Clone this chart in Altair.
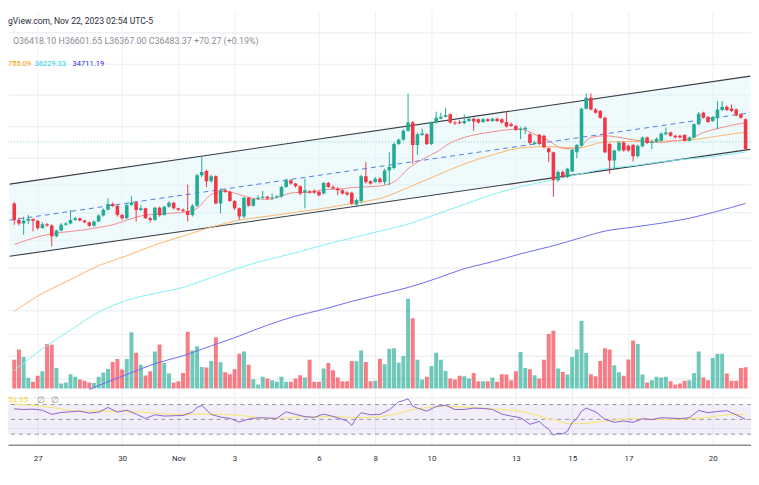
import altair as alt
import pandas as pd

# ---------------- data ----------------
idx = list(range(1, 158))
open_ = [34620,34120,34010,34090,34150,34090,33870,33990,33950,33620,33800,33970,34010,34120,34170,34100,34050,33940,34070,34250,
         34430,34600,34540,34270,34170,34570,34650,34420,34470,34170,34120,34490,34270,34520,34640,34470,34430,34390,34270,34550,
         35470,35600,35290,35440,34620,35020,34970,34690,34470,34220,34790,34550,34750,34790,34820,34770,34800,34830,35120,35320,
         35220,35140,34950,34990,35000,34970,34920,35240,35120,35070,35020,34950,34940,34590,34690,35440,35290,35270,35370,35270,
         35620,35690,36420,36550,36820,37070,36390,36690,36720,36420,37070,37190,37250,37320,37070,37090,37050,37120,37190,37170,
         37090,37170,37120,37190,37170,37090,37020,36970,36850,36870,36720,36420,36700,36670,36290,36170,35320,35570,35420,35590,
         36170,36370,37490,37820,37470,37420,37220,36420,35920,36220,36470,36370,36390,36050,36350,36620,36450,36490,36520,36720,
         36770,36670,36670,36690,36520,36620,37020,37370,37240,37120,37220,37450,37550,37490,37470,37320,37170]
high_ = [34670,34190,34220,34270,34170,34120,34050,34020,33990,33820,34020,34050,34420,34220,34190,34120,34070,34100,34290,34470,
         34770,34650,34570,34310,34620,34840,34690,34570,34490,34210,34520,34520,34550,34690,34670,34490,34470,35190,34590,35520,
         36020,35640,35490,35470,35070,35050,35000,34720,34490,34820,34820,34770,34870,35000,34850,34920,34870,35150,35370,35350,
         35240,35170,35370,35020,35050,35010,35270,35270,35170,35110,35050,34990,34970,34770,35490,35870,35320,35420,35420,35670,
         36170,36470,36590,36870,37950,37120,36770,36890,36750,37100,37400,37370,37520,37350,37120,37140,37320,37240,37220,37200,
         37210,37200,37220,37220,37200,37420,37070,37010,36940,36950,36770,36520,36720,36700,36320,36190,35620,35620,35700,36270,
         36420,37520,37950,37950,37510,37450,37250,36450,36250,36500,36500,36400,36420,36400,36650,36650,36550,36620,36770,36920,
         36800,36700,36700,36720,36650,37050,37390,37400,37270,37270,37720,37720,37590,37620,37500,37350,37200]
low_ = [33970,33950,33670,33990,33770,33820,33850,33910,33320,33590,33770,33940,33990,34090,34070,34020,33910,33910,34050,34220,
        34410,34510,34220,34120,34150,34550,34070,34390,34150,34050,34090,34220,34250,34490,34440,34390,34350,34070,34220,34520,
        35420,35120,35250,34590,34320,34940,34670,34420,34120,34170,34520,34520,34720,34750,34740,34720,34770,34790,35090,35190,
        35100,34870,34470,34920,34910,34830,34890,35090,35050,34870,34890,34850,34570,34520,34620,35220,35190,35240,35220,35190,
        35170,35650,36390,36520,36790,35820,36090,36670,36390,36390,37040,37170,37220,37040,37000,37020,37020,37090,36820,37040,
        37060,37090,37090,37090,37040,36920,36940,36820,36570,36720,36420,36390,36390,36290,35870,34820,35270,35390,35390,35570,
        35990,36350,37470,37440,37340,37190,36140,35520,35670,36190,36190,36190,35890,36020,36320,36420,36270,36460,36490,36690,
        36640,36590,36590,36490,36490,36590,36990,37190,37060,37090,36870,37420,37420,37390,37260,37190,36240]
close_ = [34120,34010,34090,34150,34090,33870,33990,33950,33620,33800,33970,34010,34120,34170,34100,34050,33940,34070,34250,34430,
          34600,34540,34270,34170,34570,34650,34420,34470,34170,34120,34490,34270,34520,34640,34470,34430,34390,34270,34550,35470,
          35570,35290,35440,34620,35020,34970,34690,34470,34220,34790,34550,34750,34790,34820,34770,34800,34830,35120,35320,35220,
          35140,34920,35020,34950,34950,34870,35240,35120,35070,35020,34920,34890,34620,34720,35440,35270,35220,35370,35270,35620,
          35720,36420,36550,36820,37070,36390,36720,36740,36420,37070,37220,37250,37300,37070,37040,37050,37120,37190,37100,37070,
          37170,37120,37190,37120,37070,36950,36970,36850,36890,36910,36450,36470,36420,36320,36170,35320,35570,35420,35670,36240,
          36390,37490,37820,37470,37370,37220,36170,35920,36220,36470,36220,36220,36050,36370,36620,36450,36490,36570,36740,36770,
          36670,36620,36620,36520,36620,37020,37340,37220,37090,37240,37470,37550,37450,37420,37290,37220,36270]
volume = [870,1180,950,320,200,380,520,1350,1320,620,150,180,430,350,270,230,180,160,350,480,
          590,800,890,570,890,1700,1080,720,390,520,1120,1330,770,450,170,220,470,1720,1150,1280,
          650,630,830,1550,790,490,430,580,1050,1120,720,280,120,350,300,250,200,350,200,200,
          300,400,330,870,200,200,600,770,550,330,220,220,830,820,1150,800,220,230,900,730,
          1200,1220,780,980,2720,2130,870,270,350,680,1080,870,530,300,270,380,370,300,470,220,
          220,220,330,200,430,420,250,520,1100,620,580,400,300,870,1650,1750,600,500,420,950,
          1180,2050,1070,430,370,830,1220,1180,700,490,380,880,1450,1350,420,180,250,350,330,350,
          220,120,150,230,250,470,1120,330,250,920,1050,1050,450,230,230,620,640]

ma_fast_idx = [1,4,7,10,13,16,19,22,25,28,31,34,37,40,43,46,49,52,55,58,61,64,67,70,73,76,79,82,85,88,91,94,97,100,
               103,106,109,112,115,118,121,124,127,130,133,136,139,142,145,148,151,154,157]
ma_fast = [33370,33520,33640,33720,33770,33820,33890,33970,34110,34240,34290,34320,34350,34470,34890,34990,34890,34770,
           34740,34850,34950,34950,35040,35050,35100,35120,35150,35270,35670,35950,36170,36450,36620,36720,36790,36850,
           36870,36720,36520,36290,36270,36620,36670,36620,36550,36490,36470,36520,36570,36770,36890,36990,37070]
ma_slow_idx = [1,7,13,19,25,31,37,43,49,55,61,67,73,79,85,91,97,103,109,115,121,127,133,139,145,151,157]
ma50 = [31350,31890,32310,32730,33030,33360,33630,33900,34110,34230,34350,34470,34620,34770,35100,35460,35820,36090,
        36300,36345,36300,36480,36495,36510,36540,36660,36780]
ma100 = [29550,30210,30780,31320,31680,31890,32070,32370,32670,32910,33120,33360,33570,33780,33990,34290,34590,34890,
         35130,35310,35490,35670,35760,35880,35970,36060,36180]
ma200_idx = [17,19,25,31,37,43,49,55,61,67,73,79,85,91,97,103,109,115,121,127,133,139,145,151,157]
ma200 = [28980,29100,29430,29760,30000,30300,30600,30930,31200,31410,31650,31860,32070,32340,32640,32850,33090,33300,
         33540,33780,33900,34020,34170,34380,34620]

rsi_idx = [1,3,5,7,9,11,13,15,17,19,21,23,25,27,29,31,33,35,37,39,40,41,43,45,47,49,51,53,55,57,59,61,63,65,67,69,71,72,
           73,74,75,77,79,81,83,84,85,86,87,89,91,93,95,97,99,101,103,105,107,109,111,113,114,115,116,117,118,119,120,121,
           122,123,125,127,129,131,133,135,137,139,141,143,145,147,149,151,153,155,157]
rsi = [64.2,63.3,63.8,62.4,56.7,59.3,60.2,61.1,58.4,59.8,66.0,59.8,62.4,57.1,51.3,56.2,54.4,54.9,55.3,59.8,66.0,68.7,56.7,
       53.1,51.3,46.4,50.4,52.2,51.8,51.3,60.2,56.7,53.6,52.7,57.1,54.0,50.0,47.8,42.0,52.0,58.9,56.2,56.7,62.9,73.6,75.3,
       77.6,67.8,65.1,61.1,67.3,69.1,63.3,63.3,65.1,64.7,63.3,57.1,54.4,52.2,43.3,47.3,41.1,36.7,28.7,31.3,30.4,34.0,45.6,
       50.9,61.1,65.1,60.2,50.0,46.0,47.8,46.0,50.9,49.6,52.2,51.8,50.9,52.2,62.0,58.9,60.7,61.6,56.2,50.0]
rsi_ma_idx = [1,8,15,21,28,35,42,49,56,63,69,74,79,82,86,89,93,96,100,103,107,110,113,117,119,122,127,134,141,148,155,157]
rsi_ma = [70.9,66.9,61.1,61.1,59.8,56.7,57.1,55.3,50.9,53.6,53.6,52.2,53.6,56.7,63.3,65.6,67.8,66.9,65.6,64.2,62.4,59.8,
          54.4,47.8,44.2,44.2,47.8,50.9,50.0,52.2,56.7,56.7]

channel_idx = [0, 158]
channel_upper = [35205, 38478]
channel_lower = [33015, 36258]
channel_mid = [34110, 37368]
last_close = 36483.37

day_ticks = [6, 24, 36, 48, 66, 78, 90, 108, 120, 132, 150]
day_labels = ["27", "30", "Nov", "3", "6", "8", "10", "13", "15", "17", "20"]
price_grid = [39810, 38850, 37920, 36960, 36000, 35190, 34350, 33510, 32670, 31380, 30660, 30000, 29310, 28740, 27810]

# ---------------- chart ----------------
W, H = 751, 439
SX = W / 759.0
TEAL, RED = "#22ab94", "#f23645"

label_expr = " : ".join(
    f"datum.value == {v} ? '{l}'" for v, l in zip(day_ticks, day_labels)) + " : ''"
xaxis = alt.Axis(values=day_ticks, labelExpr=label_expr, grid=True, gridColor="#edf0f5", gridWidth=1,
                 ticks=False, domain=True, domainColor="#8b8e96", domainWidth=1.5, labelColor="#2a2e39",
                 labelFontSize=8, labelFont="Roboto", labelPadding=10, labelFlush=False, title=None)
xscale = alt.Scale(domain=[0.72, 157.1], nice=False, zero=False)
X = alt.X("i:Q", scale=xscale, axis=xaxis)

pscale = alt.Scale(domain=[27300, 40470], nice=False, zero=False)
paxis = alt.Axis(values=price_grid, grid=True, gridColor="#edf0f5", labels=False, ticks=False, domain=False, title=None)

candles = pd.DataFrame({"i": idx, "o": open_, "h": high_, "l": low_, "c": close_, "v": volume})
up = "datum.c >= datum.o"

chan = pd.DataFrame({"i": channel_idx, "lo": channel_lower, "hi": channel_upper, "mid": channel_mid})
fast = pd.DataFrame({"i": ma_fast_idx, "p": ma_fast})
m50 = pd.DataFrame({"i": ma_slow_idx, "p": ma50})
m100 = pd.DataFrame({"i": ma_slow_idx, "p": ma100})
m200 = pd.DataFrame({"i": ma200_idx, "p": ma200})

fill = alt.Chart(chan).mark_area(color="#e3f6f8", opacity=0.6, clip=True).encode(
    x=X, y=alt.Y("lo:Q", scale=pscale, axis=paxis), y2="hi:Q")
up_line = alt.Chart(chan).mark_line(color="#3a3d46", strokeWidth=1.1, clip=True).encode(x=X, y=alt.Y("hi:Q", scale=pscale, axis=paxis))
lo_line = alt.Chart(chan).mark_line(color="#3a3d46", strokeWidth=1.1, clip=True).encode(x=X, y=alt.Y("lo:Q", scale=pscale, axis=paxis))
mid_line = alt.Chart(chan).mark_line(color="#4f7de8", strokeWidth=1, strokeDash=[5, 4], clip=True).encode(
    x=X, y=alt.Y("mid:Q", scale=pscale, axis=paxis))
price_rule = alt.Chart(pd.DataFrame({"p": [last_close]})).mark_rule(color="#8fcfc6", strokeDash=[1, 2], strokeWidth=1).encode(
    y=alt.Y("p:Q", scale=pscale, axis=paxis))


def ma_line(df, color, width=1.0):
    return alt.Chart(df).mark_line(color=color, strokeWidth=width, interpolate="monotone", clip=True).encode(
        x=X, y=alt.Y("p:Q", scale=pscale, axis=paxis))


wicks = alt.Chart(candles).mark_rule(strokeWidth=1, clip=True).encode(
    x=X, y=alt.Y("l:Q", scale=pscale, axis=paxis), y2="h:Q",
    color=alt.condition(up, alt.value(TEAL), alt.value(RED)))
bodies = alt.Chart(candles).mark_bar(width=3.6, clip=True).encode(
    x=X, y=alt.Y("o:Q", scale=pscale, axis=paxis), y2="c:Q",
    color=alt.condition(up, alt.value(TEAL), alt.value(RED)))

vol_layer = alt.Chart(candles).mark_bar(width=4, opacity=0.65, clip=True).encode(
    x=X, y=alt.Y("v:Q", scale=alt.Scale(domain=[-1710, 11460], nice=False, zero=False), axis=None),
    y2=alt.datum(0),
    color=alt.condition(up, alt.value(TEAL), alt.value(RED)))

back_layer = alt.layer(fill, price_rule, up_line, lo_line, mid_line)
front_layer = alt.layer(ma_line(m200, "#6f6cf2"), ma_line(m100, "#7ff0f4"), ma_line(m50, "#ffb46b"),
                        ma_line(fast, "#f58a8e"), wicks, bodies)

rscale = alt.Scale(domain=[15.73, 601.07], nice=False, zero=False)
band = alt.Chart(pd.DataFrame({"a": [70], "b": [30]})).mark_rect(color="#7e57c2", opacity=0.1).encode(
    y=alt.Y("a:Q", scale=rscale, axis=None), y2="b:Q")
levels = alt.Chart(pd.DataFrame({"r": [70, 50, 30]})).mark_rule(color="#9598a1", strokeDash=[4, 4], strokeWidth=1).encode(
    y=alt.Y("r:Q", scale=rscale, axis=None))
rsi_line = alt.Chart(pd.DataFrame({"i": rsi_idx, "r": rsi})).mark_line(color="#8a63d2", strokeWidth=1, clip=True).encode(
    x=X, y=alt.Y("r:Q", scale=rscale, axis=None))
rsi_ma_line = alt.Chart(pd.DataFrame({"i": rsi_ma_idx, "r": rsi_ma})).mark_line(
    color="#f9e366", strokeWidth=1, interpolate="monotone", clip=True).encode(
    x=X, y=alt.Y("r:Q", scale=rscale, axis=None))
rsi_layer = alt.layer(band, levels, rsi_ma_line, rsi_line)


def label(text, x, y, color, size=8.5):
    return alt.Chart(pd.DataFrame({"t": [text]})).mark_text(
        align="left", baseline="middle", fontSize=size, font="Roboto", color=color).encode(
        x=alt.value(x * SX), y=alt.value(y), text="t:N")


texts = [
    label("gView.com, Nov 22, 2023 02:54 UTC-5", 0, 10.5, "#2a2e39", 8.7),
    label("O36418.10 H36601.65 L36367.00 C36483.37 +70.27 (+0.19%)", 5, 31, "#8b8e96", 9),
    label("755.09", 0, 54, "#ff9800", 7.6),
    label("36229.33", 27, 54, "#22d3e6", 7.6),
    label("34711.19", 66, 54, "#2b2be0", 7.6),
    label("53.65", 0, 394, "#f2d43c", 8),
    label("\u2205", 30, 394, "#8b8e96", 9),
    label("\u2205", 44, 394, "#8b8e96", 9),
]

chart = alt.layer(back_layer, vol_layer, front_layer, rsi_layer, *texts).resolve_scale(y="independent").properties(
    width=W, height=H,
    autosize=alt.AutoSizeParams(type="none"),
    padding={"left": 0, "top": 0, "right": 0, "bottom": 24},
    background="white",
).configure_view(stroke=None)

chart.save("out.html", embed_options={"renderer": "svg", "actions": False})
